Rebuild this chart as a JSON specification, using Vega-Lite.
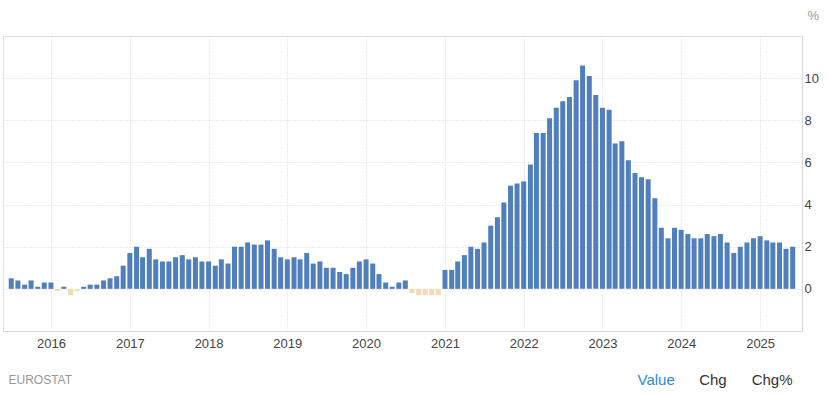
{
  "$schema": "https://vega.github.io/schema/vega-lite/v6.json",
  "width": 799,
  "height": 295,
  "autosize": {"type": "none"},
  "padding": {"left": 3, "top": 36, "right": 26, "bottom": 63},
  "background": "white",
  "config": {
    "view": {"stroke": "#e3e3e3", "strokeWidth": 1},
    "font": "Liberation Sans"
  },
  "title": {
    "text": "Chg\u00a0\u00a0\u00a0\u00a0\u00a0\u00a0Chg%",
    "orient": "bottom",
    "anchor": "end",
    "align": "right",
    "dx": -26,
    "offset": -14,
    "font": "Liberation Sans",
    "fontSize": 15,
    "fontWeight": "normal",
    "color": "#333333"
  },
  "data": {
    "values": [
      {"date": "2015/07/01", "v": 0.5}, {"date": "2015/08/01", "v": 0.4}, {"date": "2015/09/01", "v": 0.2},
      {"date": "2015/10/01", "v": 0.4}, {"date": "2015/11/01", "v": 0.1}, {"date": "2015/12/01", "v": 0.3},
      {"date": "2016/01/01", "v": 0.3}, {"date": "2016/02/01", "v": -0.1}, {"date": "2016/03/01", "v": 0.1},
      {"date": "2016/04/01", "v": -0.3}, {"date": "2016/05/01", "v": -0.1}, {"date": "2016/06/01", "v": 0.1},
      {"date": "2016/07/01", "v": 0.2}, {"date": "2016/08/01", "v": 0.2}, {"date": "2016/09/01", "v": 0.4},
      {"date": "2016/10/01", "v": 0.5}, {"date": "2016/11/01", "v": 0.6}, {"date": "2016/12/01", "v": 1.1},
      {"date": "2017/01/01", "v": 1.7}, {"date": "2017/02/01", "v": 2.0}, {"date": "2017/03/01", "v": 1.5},
      {"date": "2017/04/01", "v": 1.9}, {"date": "2017/05/01", "v": 1.4}, {"date": "2017/06/01", "v": 1.3},
      {"date": "2017/07/01", "v": 1.3}, {"date": "2017/08/01", "v": 1.5}, {"date": "2017/09/01", "v": 1.6},
      {"date": "2017/10/01", "v": 1.4}, {"date": "2017/11/01", "v": 1.5}, {"date": "2017/12/01", "v": 1.3},
      {"date": "2018/01/01", "v": 1.3}, {"date": "2018/02/01", "v": 1.1}, {"date": "2018/03/01", "v": 1.4},
      {"date": "2018/04/01", "v": 1.2}, {"date": "2018/05/01", "v": 2.0}, {"date": "2018/06/01", "v": 2.0},
      {"date": "2018/07/01", "v": 2.2}, {"date": "2018/08/01", "v": 2.1}, {"date": "2018/09/01", "v": 2.1},
      {"date": "2018/10/01", "v": 2.3}, {"date": "2018/11/01", "v": 1.9}, {"date": "2018/12/01", "v": 1.5},
      {"date": "2019/01/01", "v": 1.4}, {"date": "2019/02/01", "v": 1.5}, {"date": "2019/03/01", "v": 1.4},
      {"date": "2019/04/01", "v": 1.7}, {"date": "2019/05/01", "v": 1.2}, {"date": "2019/06/01", "v": 1.3},
      {"date": "2019/07/01", "v": 1.0}, {"date": "2019/08/01", "v": 1.0}, {"date": "2019/09/01", "v": 0.8},
      {"date": "2019/10/01", "v": 0.7}, {"date": "2019/11/01", "v": 1.0}, {"date": "2019/12/01", "v": 1.3},
      {"date": "2020/01/01", "v": 1.4}, {"date": "2020/02/01", "v": 1.2}, {"date": "2020/03/01", "v": 0.7},
      {"date": "2020/04/01", "v": 0.3}, {"date": "2020/05/01", "v": 0.1}, {"date": "2020/06/01", "v": 0.3},
      {"date": "2020/07/01", "v": 0.4}, {"date": "2020/08/01", "v": -0.2}, {"date": "2020/09/01", "v": -0.3},
      {"date": "2020/10/01", "v": -0.3}, {"date": "2020/11/01", "v": -0.3}, {"date": "2020/12/01", "v": -0.3},
      {"date": "2021/01/01", "v": 0.9}, {"date": "2021/02/01", "v": 0.9}, {"date": "2021/03/01", "v": 1.3},
      {"date": "2021/04/01", "v": 1.6}, {"date": "2021/05/01", "v": 2.0}, {"date": "2021/06/01", "v": 1.9},
      {"date": "2021/07/01", "v": 2.2}, {"date": "2021/08/01", "v": 3.0}, {"date": "2021/09/01", "v": 3.4},
      {"date": "2021/10/01", "v": 4.1}, {"date": "2021/11/01", "v": 4.9}, {"date": "2021/12/01", "v": 5.0},
      {"date": "2022/01/01", "v": 5.1}, {"date": "2022/02/01", "v": 5.9}, {"date": "2022/03/01", "v": 7.4},
      {"date": "2022/04/01", "v": 7.4}, {"date": "2022/05/01", "v": 8.1}, {"date": "2022/06/01", "v": 8.6},
      {"date": "2022/07/01", "v": 8.9}, {"date": "2022/08/01", "v": 9.1}, {"date": "2022/09/01", "v": 9.9},
      {"date": "2022/10/01", "v": 10.6}, {"date": "2022/11/01", "v": 10.1}, {"date": "2022/12/01", "v": 9.2},
      {"date": "2023/01/01", "v": 8.6}, {"date": "2023/02/01", "v": 8.5}, {"date": "2023/03/01", "v": 6.9},
      {"date": "2023/04/01", "v": 7.0}, {"date": "2023/05/01", "v": 6.1}, {"date": "2023/06/01", "v": 5.5},
      {"date": "2023/07/01", "v": 5.3}, {"date": "2023/08/01", "v": 5.2}, {"date": "2023/09/01", "v": 4.3},
      {"date": "2023/10/01", "v": 2.9}, {"date": "2023/11/01", "v": 2.4}, {"date": "2023/12/01", "v": 2.9},
      {"date": "2024/01/01", "v": 2.8}, {"date": "2024/02/01", "v": 2.6}, {"date": "2024/03/01", "v": 2.4},
      {"date": "2024/04/01", "v": 2.4}, {"date": "2024/05/01", "v": 2.6}, {"date": "2024/06/01", "v": 2.5},
      {"date": "2024/07/01", "v": 2.6}, {"date": "2024/08/01", "v": 2.2}, {"date": "2024/09/01", "v": 1.7},
      {"date": "2024/10/01", "v": 2.0}, {"date": "2024/11/01", "v": 2.2}, {"date": "2024/12/01", "v": 2.4},
      {"date": "2025/01/01", "v": 2.5}, {"date": "2025/02/01", "v": 2.3}, {"date": "2025/03/01", "v": 2.2},
      {"date": "2025/04/01", "v": 2.2}, {"date": "2025/05/01", "v": 1.9}, {"date": "2025/06/01", "v": 2.0}
    ]
  },
  "layer": [
    {
      "mark": {"type": "bar", "width": 5},
      "encoding": {
        "x": {
          "field": "date",
          "type": "temporal",
          "scale": {
            "domain": [
              {"year": 2015, "month": "jun", "date": 16},
              {"year": 2025, "month": "jun", "date": 21}
            ]
          },
          "axis": {
            "values": [
              {"year": 2016, "month": "jan", "date": 1},
              {"year": 2017, "month": "jan", "date": 1},
              {"year": 2018, "month": "jan", "date": 1},
              {"year": 2019, "month": "jan", "date": 1},
              {"year": 2020, "month": "jan", "date": 1},
              {"year": 2021, "month": "jan", "date": 1},
              {"year": 2022, "month": "jan", "date": 1},
              {"year": 2023, "month": "jan", "date": 1},
              {"year": 2024, "month": "jan", "date": 1},
              {"year": 2025, "month": "jan", "date": 1}
            ],
            "format": "%Y",
            "title": "EUROSTAT",
            "titleAnchor": "start",
            "titleAlign": "left",
            "titleBaseline": "middle",
            "titleX": 5,
            "titleY": 48,
            "titleFont": "Liberation Sans",
            "titleFontSize": 12,
            "titleFontWeight": "normal",
            "titleColor": "#999999",
            "labelFont": "Liberation Sans",
            "labelFontSize": 13,
            "labelColor": "#444444",
            "labelPadding": 6,
            "ticks": false,
            "domainColor": "#d8d8d8",
            "grid": true,
            "gridColor": "#d6d6d6",
            "gridDash": [1, 2]
          }
        },
        "y": {
          "field": "v",
          "type": "quantitative",
          "scale": {"domain": [-2, 12], "nice": false, "zero": false},
          "axis": {
            "orient": "right",
            "values": [-2, 0, 2, 4, 6, 8, 10, 12],
            "labelExpr": "datum.value < 0 || datum.value > 10 ? '' : datum.label",
            "title": "%",
            "titleAngle": 0,
            "titleAlign": "left",
            "titleBaseline": "middle",
            "titleX": 5,
            "titleY": -21,
            "titleFont": "Liberation Sans",
            "titleFontSize": 13,
            "titleFontWeight": "normal",
            "titleColor": "#999999",
            "labelFont": "Liberation Sans",
            "labelFontSize": 13,
            "labelColor": "#444444",
            "labelPadding": 2,
            "ticks": false,
            "domainColor": "#d8d8d8",
            "grid": true,
            "gridColor": "#d6d6d6",
            "gridDash": [1, 2]
          }
        },
        "color": {
          "condition": {"test": "datum.v < 0", "value": "#f1dbb7"},
          "value": "#4f7fbd"
        },
        "tooltip": [{"field": "date", "type": "temporal", "format": "%b %Y"}, {"field": "v", "type": "quantitative"}]
      }
    },
    {
      "mark": {"type": "rule", "opacity": 0},
      "encoding": {
        "y": {
          "datum": 0,
          "type": "quantitative",
          "scale": {"domain": [-2, 12], "nice": false, "zero": false},
          "axis": {
            "orient": "left",
            "labels": false,
            "ticks": false,
            "domain": false,
            "grid": false,
            "title": "Value",
            "titleAngle": 0,
            "titleAlign": "left",
            "titleBaseline": "middle",
            "titleX": 634,
            "titleY": 343,
            "titleFont": "Liberation Sans",
            "titleFontSize": 15,
            "titleFontWeight": "normal",
            "titleColor": "#2a8ad4"
          }
        }
      }
    }
  ],
  "resolve": {"scale": {"y": "independent"}, "axis": {"y": "independent"}}
}
